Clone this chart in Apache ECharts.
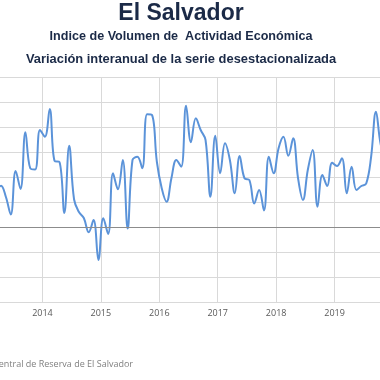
<!DOCTYPE html>
<html><head><meta charset="utf-8">
<script src="https://cdn.jsdelivr.net/npm/echarts@6/dist/echarts.min.js"></script>
<style>html,body{margin:0;padding:0;background:#fff;width:380px;height:380px;overflow:hidden;position:relative}
#c{position:absolute;left:-16px;top:0;width:409px;height:380px}</style>
</head><body><div id="c"></div>
<script>
// monthly series starting March 2013 (year-over-year % change, seasonally adjusted)
var startYear = 2013;
var startMonth = 3;
var values = [1.4, 1.65, 1.2, 0.5, 2.24, 1.52, 3.79, 2.35, 2.3, 3.88,
  3.61, 4.72, 2.64, 2.6, 0.56, 3.25, 1.1, 0.6, 0.36, -0.21, 0.28, -1.32,
  0.35, -0.28, 2.15, 1.51, 2.68, -0.06, 2.68, 2.81, 2.35, 4.51, 4.48, 2.61,
  1.55, 1.01, 1.96, 2.68, 2.41, 4.85, 3.39, 4.35, 3.88, 3.48, 1.21, 3.65,
  2.15, 3.35, 2.68, 1.35, 2.84, 1.95, 1.88, 0.94, 1.48, 0.66, 2.81, 2.15,
  3.15, 3.61, 2.85, 3.55, 1.95, 1.08, 2.28, 3.08, 0.81, 2.08, 1.64, 2.57,
  2.44, 2.75, 1.35, 2.41, 1.48, 1.64, 1.74, 2.8, 4.61, 3.28, 2.8];
var yearTicks = [2013, 2014, 2015, 2016, 2017, 2018, 2019, 2020];
var titleText = 'El Salvador';
var sub1 = 'Indice de Volumen de  Actividad Económica';
var sub2 = 'Variación interanual de la serie desestacionalizada';
var sourceText = 'Fuente: Banco Central de Reserva de El Salvador';

var data = values.map(function (v, i) {
  var m = (startMonth - 1) + i;
  return [startYear + (m + 0.5) / 12, v];
});

var navy = '#1b2a47';
var cx = 197; // visual center of titles inside the (shifted) chart div
var chart = echarts.init(document.getElementById('c'), null, {width: 409, height: 380});
chart.setOption({
  animation: false,
  backgroundColor: '#fff',
  graphic: [
    {type: 'text', x: cx, y: 14, style: {text: titleText, fill: navy, textAlign: 'center', textVerticalAlign: 'middle',
      font: 'bold 23px "Liberation Sans"'}},
    {type: 'text', x: cx, y: 37, style: {text: sub1, fill: navy, textAlign: 'center', textVerticalAlign: 'middle',
      font: 'bold 12.6px "Liberation Sans"'}},
    {type: 'text', x: cx, y: 59, style: {text: sub2, fill: navy, textAlign: 'center', textVerticalAlign: 'middle',
      font: 'bold 12.9px "Liberation Sans"'}},
    {type: 'text', x: 149, y: 364, style: {text: sourceText, fill: '#808080', textAlign: 'right', textVerticalAlign: 'middle',
      font: '9px "Open Sans"'}}
  ],
  grid: {left: 0, top: 77, width: 409, height: 225, containLabel: false, outerBoundsMode: 'none'},
  xAxis: {
    type: 'value', min: yearTicks[0], max: yearTicks[yearTicks.length - 1], interval: 1,
    axisLine: {show: false}, axisTick: {show: false},
    axisLabel: {color: '#595959', fontSize: 9, fontFamily: 'Open Sans', margin: 7,
      formatter: function (v) { return String(Math.round(v)); }},
    splitLine: {show: true, lineStyle: {color: '#d9d9d9', width: 1}}
  },
  yAxis: {
    type: 'value', min: -3, max: 6, interval: 1,
    axisLine: {show: false}, axisTick: {show: false}, axisLabel: {show: false},
    splitLine: {show: true, lineStyle: {color: '#d9d9d9', width: 1}}
  },
  series: [{
    type: 'line', data: data, smooth: 0.4, showSymbol: false,
    lineStyle: {color: '#5b93d9', width: 2},
    markLine: {silent: true, symbol: 'none', label: {show: false},
      lineStyle: {color: '#8c8c8c', width: 1, type: 'solid'},
      data: [{yAxis: 0}]},
    z: 3
  }]
});
</script></body></html>
